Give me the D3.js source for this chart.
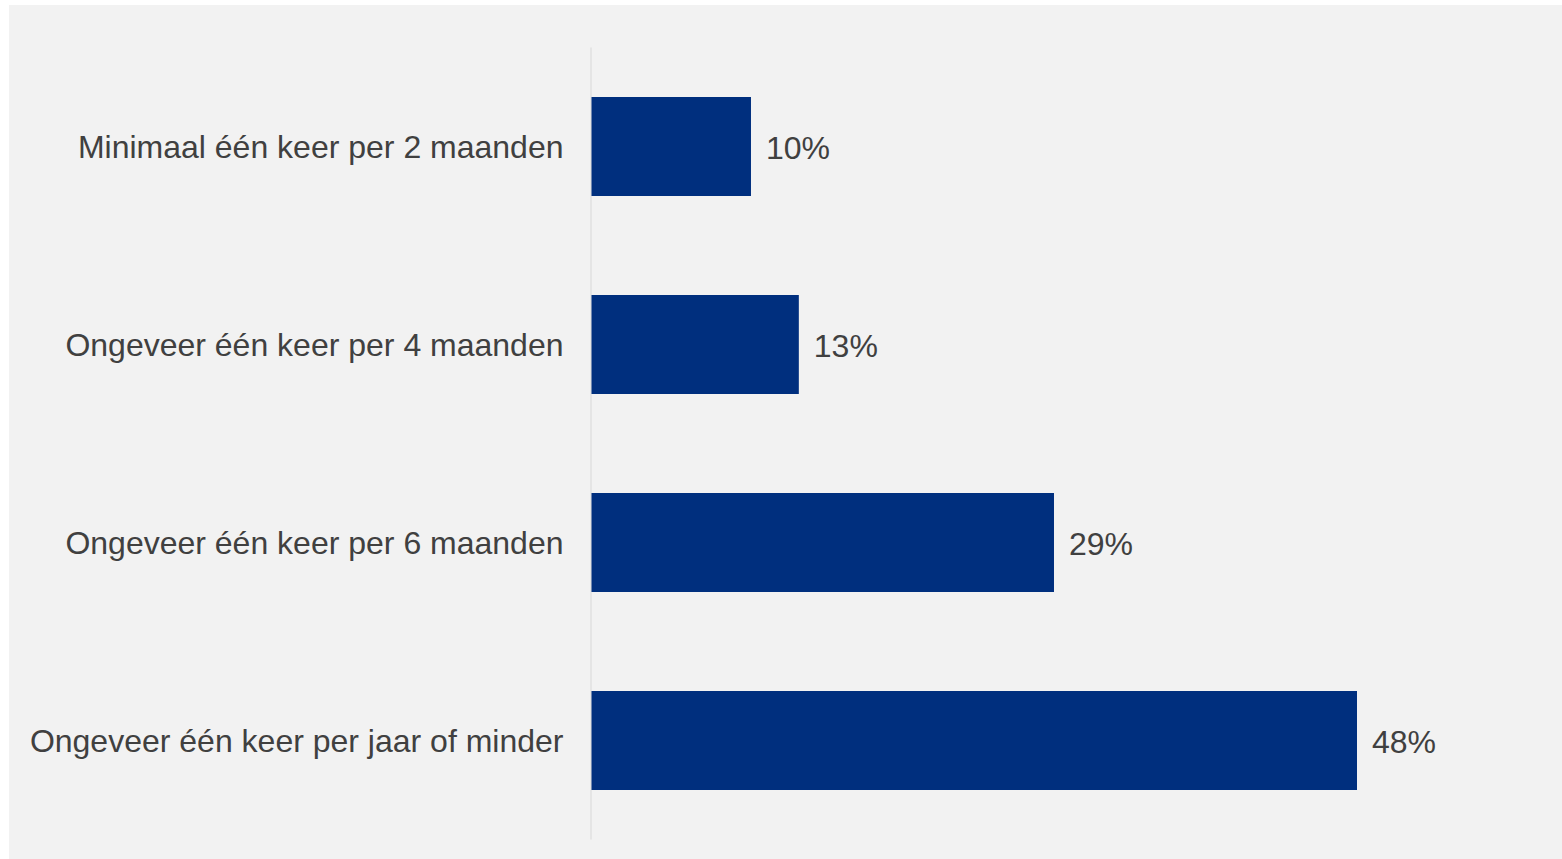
<!DOCTYPE html>
<html>
<head>
<meta charset="utf-8">
<script src="https://cdn.jsdelivr.net/npm/d3@7"></script>
<style>
  html, body { margin: 0; padding: 0; background: #ffffff; }
  svg { display: block; }
</style>
</head>
<body>
<svg id="chart" width="1562" height="859"></svg>
<script>
const categories = [
  "Minimaal één keer per 2 maanden",
  "Ongeveer één keer per 4 maanden",
  "Ongeveer één keer per 6 maanden",
  "Ongeveer één keer per jaar of minder"
];
const values = [10, 13, 29, 48];
const valueLabels = ["10%", "13%", "29%", "48%"];

const svg = d3.select("#chart");
const W = 1562, H = 859;

svg.append("rect")
  .attr("x", 9).attr("y", 5)
  .attr("width", W - 9).attr("height", H - 5)
  .attr("fill", "#f2f2f2");

const x = d3.scaleLinear().domain([0, 48]).range([591.5, 1357]);
const y = d3.scaleBand().domain(categories).range([47.5, 839.5])
  .paddingInner(0.5).paddingOuter(0.25);

// axis line
svg.append("line")
  .attr("x1", x(0) - 0.5).attr("x2", x(0) - 0.5)
  .attr("y1", y.range()[0]).attr("y2", y.range()[1])
  .attr("stroke", "#e0e0e0").attr("stroke-width", 1.5);

svg.selectAll("rect.bar")
  .data(values)
  .enter().append("rect")
  .attr("class", "bar")
  .attr("x", x(0))
  .attr("y", (d, i) => y(categories[i]))
  .attr("width", d => x(d) - x(0))
  .attr("height", y.bandwidth())
  .attr("fill", "#002f7e");

const font = "'Liberation Sans', Arial, sans-serif";

// category labels
const yAxis = d3.axisLeft(y).tickSize(0).tickPadding(0);
const ga = svg.append("g").attr("transform", `translate(${x(0) - 28},0)`).call(yAxis);
ga.select(".domain").remove();
ga.selectAll("text")
  .attr("font-family", font)
  .attr("font-size", 32)
  .attr("fill", "#404040")
  .attr("dy", "0.36em");

// value labels
svg.selectAll("text.val")
  .data(values)
  .enter().append("text")
  .attr("class", "val")
  .attr("x", d => x(d) + 15)
  .attr("y", (d, i) => y(categories[i]) + y.bandwidth() / 2)
  .attr("dy", "0.4em")
  .attr("font-family", font)
  .attr("font-size", 32)
  .attr("fill", "#404040")
  .text((d, i) => valueLabels[i]);
</script>
</body>
</html>
